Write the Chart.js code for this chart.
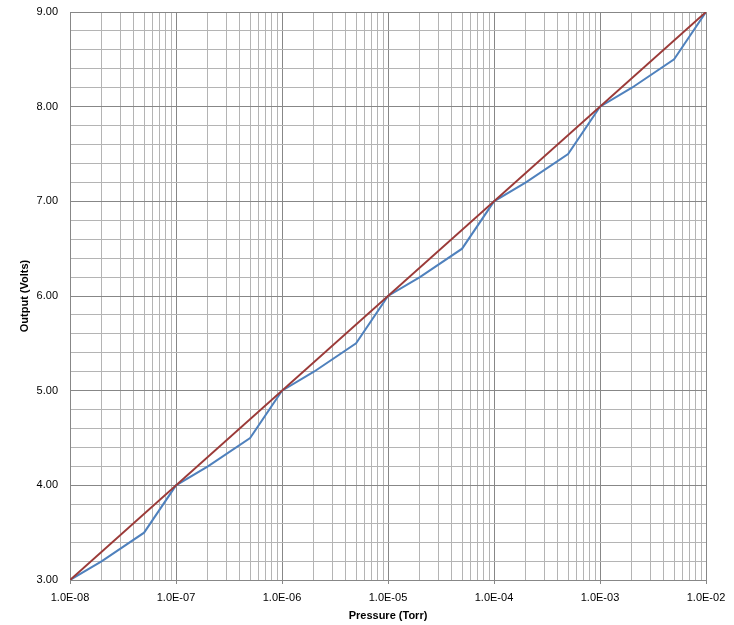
<!DOCTYPE html>
<html>
<head>
<meta charset="utf-8">
<script src="https://cdn.jsdelivr.net/npm/chart.js@4/dist/chart.umd.min.js"></script>
<style>
  html, body { margin: 0; padding: 0; background: #fff; }
  #wrap { width: 734px; height: 625px; }
</style>
</head>
<body>
<div id="wrap"><canvas id="chart" width="734" height="625"></canvas></div>
<script>
// Data
const pressure = [1e-8, 2e-8, 5e-8, 1e-7, 2e-7, 5e-7, 1e-6, 2e-6, 5e-6, 1e-5, 2e-5, 5e-5, 1e-4, 2e-4, 5e-4, 1e-3, 2e-3, 5e-3, 1e-2];
const actualOutput = [3.0, 3.2, 3.5, 4.0, 4.2, 4.5, 5.0, 5.2, 5.5, 6.0, 6.2, 6.5, 7.0, 7.2, 7.5, 8.0, 8.2, 8.5, 9.0];
const idealPressure = [1e-8, 1e-2];
const idealOutput = [3.0, 9.0];
const decades = [-8, -7, -6, -5, -4, -3, -2];

const majorGrid = '#878787';
const minorGrid = '#b4b4b4';

function fmtExp(v) {
  const e = Math.round(Math.log10(v));
  const a = Math.abs(e);
  return '1.0E' + (e < 0 ? '-' : '+') + (a < 10 ? '0' : '') + a;
}
function isDecade(v) {
  const l = Math.log10(v);
  return Math.abs(l - Math.round(l)) < 1e-9;
}

const font = { family: '"Liberation Sans", Arial, sans-serif', size: 11 };

new Chart(document.getElementById('chart'), {
  type: 'line',
  data: {
    datasets: [
      {
        label: 'Ideal',
        data: idealPressure.map((x, i) => ({ x: x, y: idealOutput[i] })),
        borderColor: '#9b3a38',
        borderWidth: 2,
        pointRadius: 0,
        tension: 0
      },
      {
        label: 'Output',
        data: pressure.map((x, i) => ({ x: x, y: actualOutput[i] })),
        borderColor: '#4f81bd',
        borderWidth: 2,
        pointRadius: 0,
        tension: 0
      }
    ]
  },
  options: {
    responsive: false,
    animation: false,
    layout: { padding: { top: 12, right: 28, left: 0, bottom: 0 } },
    plugins: { legend: { display: false }, tooltip: { enabled: false } },
    scales: {
      x: {
        type: 'logarithmic',
        min: 1e-8,
        max: 1e-2,
        afterBuildTicks: scale => {
          const t = [];
          decades.forEach(d => {
            if (d === -2) { t.push({ value: 1e-2 }); return; }
            for (let k = 1; k <= 9; k++) t.push({ value: k * Math.pow(10, d) });
          });
          scale.ticks = t;
        },
        afterFit: scale => {
          scale.height = 45;
          scale.paddingLeft = 0;
          scale.paddingRight = 0;
        },
        border: { color: majorGrid, width: 1 },
        grid: {
          color: ctx => (ctx.tick && isDecade(ctx.tick.value)) ? majorGrid : minorGrid,
          tickColor: ctx => (ctx.tick && isDecade(ctx.tick.value)) ? majorGrid : 'rgba(0,0,0,0)',
          tickLength: 4,
          lineWidth: 1
        },
        ticks: {
          autoSkip: false,
          maxRotation: 0,
          padding: 7,
          color: '#000',
          font: font,
          callback: v => isDecade(v) ? fmtExp(v) : ''
        },
        title: {
          display: true,
          text: 'Pressure (Torr)',
          color: '#000',
          font: { family: font.family, size: 11, weight: 'bold' },
          padding: { top: 0, bottom: 2 }
        }
      },
      y: {
        min: 3,
        max: 9,
        afterBuildTicks: scale => {
          const t = [];
          for (let i = 0; i <= 30; i++) t.push({ value: Math.round((3 + i * 0.2) * 10) / 10 });
          scale.ticks = t;
        },
        afterFit: scale => {
          scale.width = 70;
          scale.paddingTop = 0;
          scale.paddingBottom = 0;
        },
        border: { color: majorGrid, width: 1 },
        grid: {
          color: ctx => (ctx.tick && Number.isInteger(ctx.tick.value)) ? majorGrid : minorGrid,
          drawTicks: false,
          lineWidth: 1
        },
        ticks: {
          autoSkip: false,
          padding: 12,
          color: '#000',
          font: font,
          callback: v => Number.isInteger(v) ? v.toFixed(2) : ''
        },
        title: {
          display: true,
          text: 'Output (Volts)',
          color: '#000',
          font: { family: font.family, size: 11, weight: 'bold' },
          padding: { top: 18, bottom: 0 }
        }
      }
    }
  }
});
</script>
</body>
</html>
